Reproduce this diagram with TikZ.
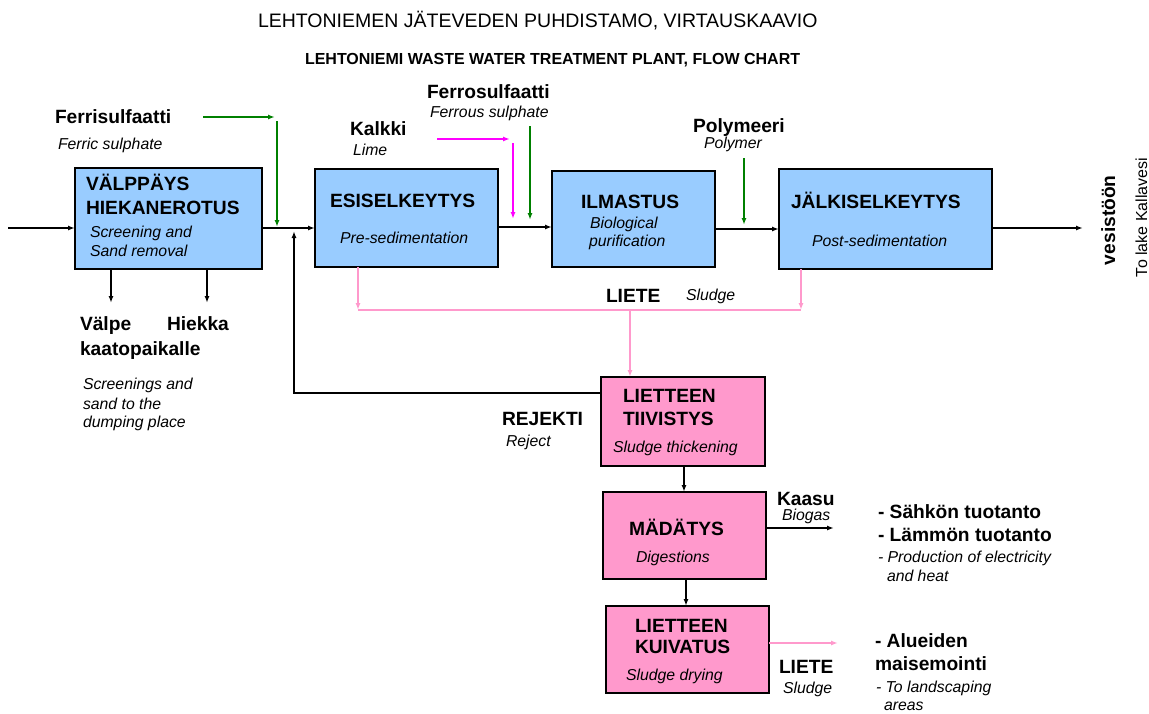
\documentclass[tikz,border=0pt]{standalone}
\usepackage{fontspec}
\setmainfont{Liberation Sans}
\usetikzlibrary{arrows.meta}
\definecolor{boxblue}{HTML}{99CCFF}
\definecolor{boxpink}{HTML}{FF99CC}
\definecolor{linkpink}{HTML}{FF99CC}
\definecolor{mag}{HTML}{FF00FF}
\definecolor{grn}{HTML}{008000}
\begin{document}
\begin{tikzpicture}[x=1pt,y=-1pt,
  bluebox/.style={draw=black, line width=2.6pt, fill=boxblue, inner sep=0pt, outer sep=0pt},
  pinkbox/.style={draw=black, line width=2.6pt, fill=boxpink, inner sep=0pt, outer sep=0pt},
  txt/.style={anchor=base west, inner sep=0pt, outer sep=0pt},
  hb/.style={txt, font=\fontsize{19.2}{21}\selectfont\bfseries},
  it/.style={txt, font=\fontsize{15.8}{17}\selectfont\itshape},
  flow/.style={draw=black, line width=2pt, -{Latex[length=7pt,width=5pt]}},
  thin flow/.style={draw=black, line width=1.5pt, -{Latex[length=7pt,width=5pt]}},
  gflow/.style={draw=grn, line width=2pt, -{Latex[length=7pt,width=5pt]}},
  mflow/.style={draw=mag, line width=2pt, -{Latex[length=7pt,width=5pt]}},
  pflow/.style={draw=linkpink, line width=2pt, -{Latex[length=7pt,width=5pt]}},
  pline/.style={draw=linkpink, line width=2pt}
]
\useasboundingbox (0,0) rectangle (1149,713);
\fill[white] (0,0) rectangle (1149,713);

% titles
\node[txt, font=\fontsize{19.5}{21}\selectfont] (t1) at (258,27) {LEHTONIEMEN JÄTEVEDEN PUHDISTAMO, VIRTAUSKAAVIO};
\node[txt, font=\fontsize{16}{18}\selectfont\bfseries] (t2) at (305,64) {LEHTONIEMI WASTE WATER TREATMENT PLANT, FLOW CHART};

% boxes
\node[bluebox, minimum width=187pt, minimum height=101pt] (b1) at (168.5,218.5) {};
\node[bluebox, minimum width=183pt, minimum height=98pt] (b2) at (406.5,218) {};
\node[bluebox, minimum width=163pt, minimum height=96pt] (b3) at (633.5,219) {};
\node[bluebox, minimum width=213pt, minimum height=100pt] (b4) at (885.5,219) {};
\node[pinkbox, minimum width=164pt, minimum height=89pt] (b5) at (683,421.5) {};
\node[pinkbox, minimum width=163pt, minimum height=87pt] (b6) at (684.5,535.5) {};
\node[pinkbox, minimum width=163pt, minimum height=87pt] (b7) at (687.5,649.5) {};

% box texts
\node[hb] (b1a) at (86,190) {VÄLPPÄYS};
\node[hb] (b1b) at (86,214) {HIEKANEROTUS};
\node[it] (b1c) at (90,237) {Screening and};
\node[it] (b1d) at (90,256) {Sand removal};
\node[hb] (b2a) at (330,207) {ESISELKEYTYS};
\node[it] (b2b) at (340,243) {Pre-sedimentation};
\node[hb] (b3a) at (581,208) {ILMASTUS};
\node[it] (b3b) at (590,228) {Biological};
\node[it] (b3c) at (589,246) {purification};
\node[hb] (b4a) at (791,208) {JÄLKISELKEYTYS};
\node[it] (b4b) at (812,246) {Post-sedimentation};
\node[hb] (b5a) at (623,402) {LIETTEEN};
\node[hb] (b5b) at (623,425) {TIIVISTYS};
\node[it] (b5c) at (613,452) {Sludge thickening};
\node[hb] (b6a) at (629,535) {MÄDÄTYS};
\node[it] (b6b) at (636,562) {Digestions};
\node[hb] (b7a) at (635,632) {LIETTEEN};
\node[hb] (b7b) at (635,653) {KUIVATUS};
\node[it] (b7c) at (626,680) {Sludge drying};

% other labels
\node[hb] (l1) at (55,123) {Ferrisulfaatti};
\node[it] (l1e) at (58,149) {Ferric sulphate};
\node[hb] (l2) at (350,135) {Kalkki};
\node[it] (l2e) at (353,155) {Lime};
\node[hb] (l3) at (427,98) {Ferrosulfaatti};
\node[it] (l3e) at (430,117) {Ferrous sulphate};
\node[hb] (l4) at (693,132) {Polymeeri};
\node[it] (l4e) at (704,148) {Polymer};
\node[hb] (l5) at (80,330) {Välpe};
\node[hb] (l6) at (167,330) {Hiekka};
\node[hb] (l7) at (80,355) {kaatopaikalle};
\node[it] (l8a) at (83,389) {Screenings and};
\node[it] (l8b) at (83,409) {sand to the};
\node[it] (l8c) at (83,427) {dumping place};
\node[hb] (l9) at (606,302) {LIETE};
\node[it] (l9e) at (686,300) {Sludge};
\node[hb] (l10) at (502,425) {REJEKTI};
\node[it] (l10e) at (506,446) {Reject};
\node[hb, rotate=90] (l11) at (1115,265) {vesistöön};
\node[txt, font=\fontsize{16}{17}\selectfont, rotate=90] (l12) at (1147,277) {To lake Kallavesi};
\node[hb] (l13) at (777,505) {Kaasu};
\node[it] (l13e) at (782,520) {Biogas};
\node[hb] (l14a) at (878,518) {- Sähkön tuotanto};
\node[hb] (l14b) at (878,541) {- Lämmön tuotanto};
\node[it] (l14c) at (878,562) {- Production of electricity};
\node[it] (l14d) at (887,581) {and heat};
\node[hb] (l15) at (779,673) {LIETE};
\node[it] (l15e) at (783,693) {Sludge};
\node[hb] (l16a) at (875,647) {- Alueiden};
\node[hb] (l16b) at (875,670) {maisemointi};
\node[it] (l16c) at (876,692) {- To landscaping};
\node[it] (l16d) at (884,710) {areas};

% coordinates
\coordinate (in) at (8,228);
\coordinate (fs1) at (203,117);
\coordinate (fs2) at (275,117);
\coordinate (fs3) at (277,121);
\coordinate (fs4) at (277,227);
\coordinate (k1) at (437,139);
\coordinate (k2) at (510,139);
\coordinate (k3) at (513,143);
\coordinate (k4) at (513,219);
\coordinate (f1) at (530,126);
\coordinate (f2) at (530,220);
\coordinate (p1) at (744,158);
\coordinate (p2) at (744,225);
\coordinate (out) at (1083,228);
\coordinate (rj) at (601,393);
\coordinate (rj2) at (294,231);
\coordinate (s1) at (358,267);
\coordinate (s2) at (801,269);
\coordinate (sy) at (0,310);
\coordinate (sj) at (630,310);
\coordinate (g1) at (834,528);
\coordinate (g2) at (838,643);

% main flow
\draw[flow] (in) -- (in -| b1.west);
\draw[flow] (in -| b1.east) -- (in -| b2.west);
\draw[flow] (b2.east |- 0,227) -- (b3.west |- 0,227);
\draw[flow] (b3.east |- 0,229) -- (b4.west |- 0,229);
\draw[flow] (in -| b4.east) -- (out);
\draw[thin flow] (b1.south -| 111,0) -- (111,303);
\draw[thin flow] (b1.south -| 207,0) -- (207,303);

% chemicals
\draw[gflow] (fs1) -- (fs2);
\draw[gflow] (fs3) -- (fs4);
\draw[mflow] (k1) -- (k2);
\draw[mflow] (k3) -- (k4);
\draw[gflow] (f1) -- (f2);
\draw[gflow] (p1) -- (p2);

% reject
\draw[flow] (rj) -| (rj2);

% sludge collection
\draw[pflow] (s1) -- (s1 |- sy);
\draw[pflow] (s2) -- (s2 |- sy);
\draw[pline] (s1 |- sy) -- (s2 |- sy);
\draw[pflow] (sj) -- (sj |- b5.north);

% sludge line
\draw[flow] (b5.south -| 684,0) -- (684,492);
\draw[flow] (b6.south -| 686,0) -- (686,606);
\draw[flow] (b6.east |- g1) -- (g1);
\draw[pflow] (b7.east |- g2) -- (g2);
\end{tikzpicture}
\end{document}
